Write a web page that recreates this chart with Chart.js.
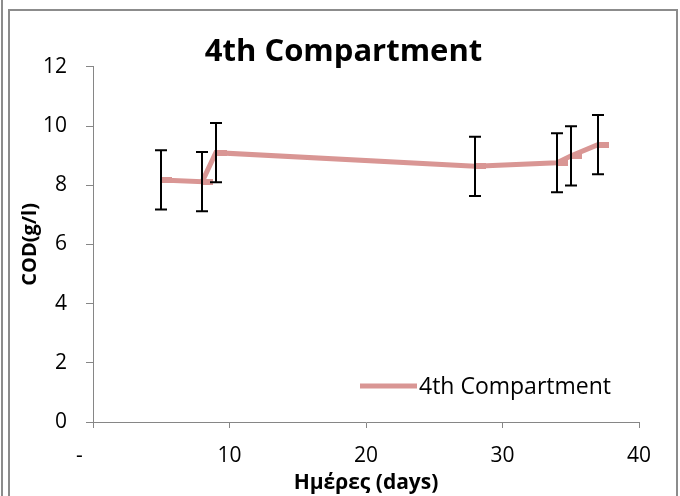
<!DOCTYPE html>
<html>
<head>
<meta charset="utf-8">
<script src="https://cdn.jsdelivr.net/npm/chart.js@4/dist/chart.umd.min.js"></script>
<style>
  html, body { margin: 0; padding: 0; background: #fff; }
  #wrap { position: relative; width: 680px; height: 496px; }
  #frame { position: absolute; left: 8px; top: 9px; width: 670px; height: 500px; border: 2px solid #8c8c8c; border-bottom: none; box-sizing: border-box; }
  #edge { position: absolute; left: 1px; top: 0; width: 2px; height: 496px; background: #8c8c8c; }
  canvas { position: absolute; left: 0; top: 0; }
</style>
</head>
<body>
<div id="wrap">
  <div id="edge"></div>
  <div id="frame"></div>
  <canvas id="codChart" width="680" height="496"></canvas>
</div>
<script>
// data
const days = [5, 8, 9, 28, 34, 35, 37];
const cod = [8.18, 8.12, 9.1, 8.64, 8.76, 8.99, 9.37];
const codErr = [1, 1, 1, 1, 1, 1, 1];
const xTicks = ["-", "10", "20", "30", "40"];

const lineColor = "#d99694";
const axisColor = "#868686";
const fontFam = "'Open Sans', sans-serif";

// Excel style dash marker, sits to the right of the point
const marker = document.createElement("canvas");
marker.width = 22;
marker.height = 6;
const mctx = marker.getContext("2d");
mctx.fillStyle = lineColor;
mctx.fillRect(11, 0, 11, 6);

const errorBars = {
  id: "errorBars",
  afterDatasetsDraw(chart) {
    const { ctx, scales: { x, y } } = chart;
    ctx.save();
    ctx.strokeStyle = "#000";
    ctx.lineWidth = 2;
    days.forEach((d, i) => {
      const px = Math.round(x.getPixelForValue(d));
      const top = y.getPixelForValue(cod[i] + codErr[i]);
      const bot = y.getPixelForValue(cod[i] - codErr[i]);
      ctx.beginPath();
      ctx.moveTo(px, top); ctx.lineTo(px, bot);
      ctx.moveTo(px - 6, top); ctx.lineTo(px + 6, top);
      ctx.moveTo(px - 6, bot); ctx.lineTo(px + 6, bot);
      ctx.stroke();
    });
    ctx.restore();
  }
};

// title is centred on the whole frame, not the padded box
const titleShift = {
  id: "titleShift",
  afterLayout(chart) {
    chart.titleBlock.left += 24;
    chart.titleBlock.right += 24;
  }
};

// legend drawn inside the plot, bottom right
const innerLegend = {
  id: "innerLegend",
  afterDraw(chart) {
    const { ctx, chartArea } = chart;
    const yy = chartArea.bottom - 36;
    const x0 = chartArea.right - 279;
    ctx.save();
    ctx.strokeStyle = lineColor;
    ctx.lineWidth = 5;
    ctx.beginPath();
    ctx.moveTo(x0, yy);
    ctx.lineTo(x0 + 57, yy);
    ctx.stroke();
    ctx.fillStyle = "#000";
    ctx.font = "23px " + fontFam;
    ctx.textBaseline = "middle";
    ctx.fillText(chart.data.datasets[0].label, x0 + 59, yy + 1);
    ctx.restore();
  }
};

new Chart("codChart", {
  type: "line",
  data: {
    datasets: [
      {
        label: "4th Compartment",
        data: days.map((d, i) => ({ x: d, y: cod[i] })),
        borderColor: lineColor,
        backgroundColor: lineColor,
        borderWidth: 5,
        tension: 0,
        pointStyle: marker,
        pointRadius: 6,
        pointHoverRadius: 6,
      },
    ],
  },
  options: {
    responsive: false,
    animation: false,
    layout: { padding: { left: 0, right: 41, top: 0, bottom: 0 } },
    plugins: {
      legend: { display: false },
      tooltip: { enabled: false },
      title: {
        display: true,
        text: "4th Compartment",
        color: "#000",
        font: { family: fontFam, size: 31, weight: "bold", lineHeight: 0.93 },
        padding: { top: 38, bottom: 0 },
      },
    },
    scales: {
      x: {
        type: "linear",
        min: 0,
        max: 40,
        afterFit: (s) => { s.height = 74; },
        ticks: {
          stepSize: 10,
          color: "#000",
          padding: 15,
          font: { family: fontFam, size: 21 },
          callback: (v) => (v === 0 ? xTicks[0] + "     " : xTicks[v / 10]),
        },
        grid: { drawOnChartArea: false, drawTicks: true, tickLength: 6, color: axisColor },
        border: { color: axisColor, width: 1 },
        title: {
          display: true,
          text: "Ημέρες (days)",
          color: "#000",
          font: { family: fontFam, size: 21, weight: "bold", lineHeight: 1.2 },
          padding: { top: 0, bottom: 0 },
        },
      },
      y: {
        min: 0,
        max: 12,
        afterFit: (s) => { s.width = 93; },
        ticks: {
          stepSize: 2,
          color: "#000",
          padding: 19,
          font: { family: fontFam, size: 21 },
        },
        grid: { drawOnChartArea: false, drawTicks: true, tickLength: 7, color: axisColor },
        border: { color: axisColor, width: 1 },
        title: {
          display: true,
          text: "COD(g/l)",
          color: "#000",
          font: { family: fontFam, size: 20, weight: "bold", lineHeight: 1.2 },
          padding: { top: 18, bottom: 0 },
        },
      },
    },
  },
  plugins: [errorBars, titleShift, innerLegend],
});
</script>
</body>
</html>
